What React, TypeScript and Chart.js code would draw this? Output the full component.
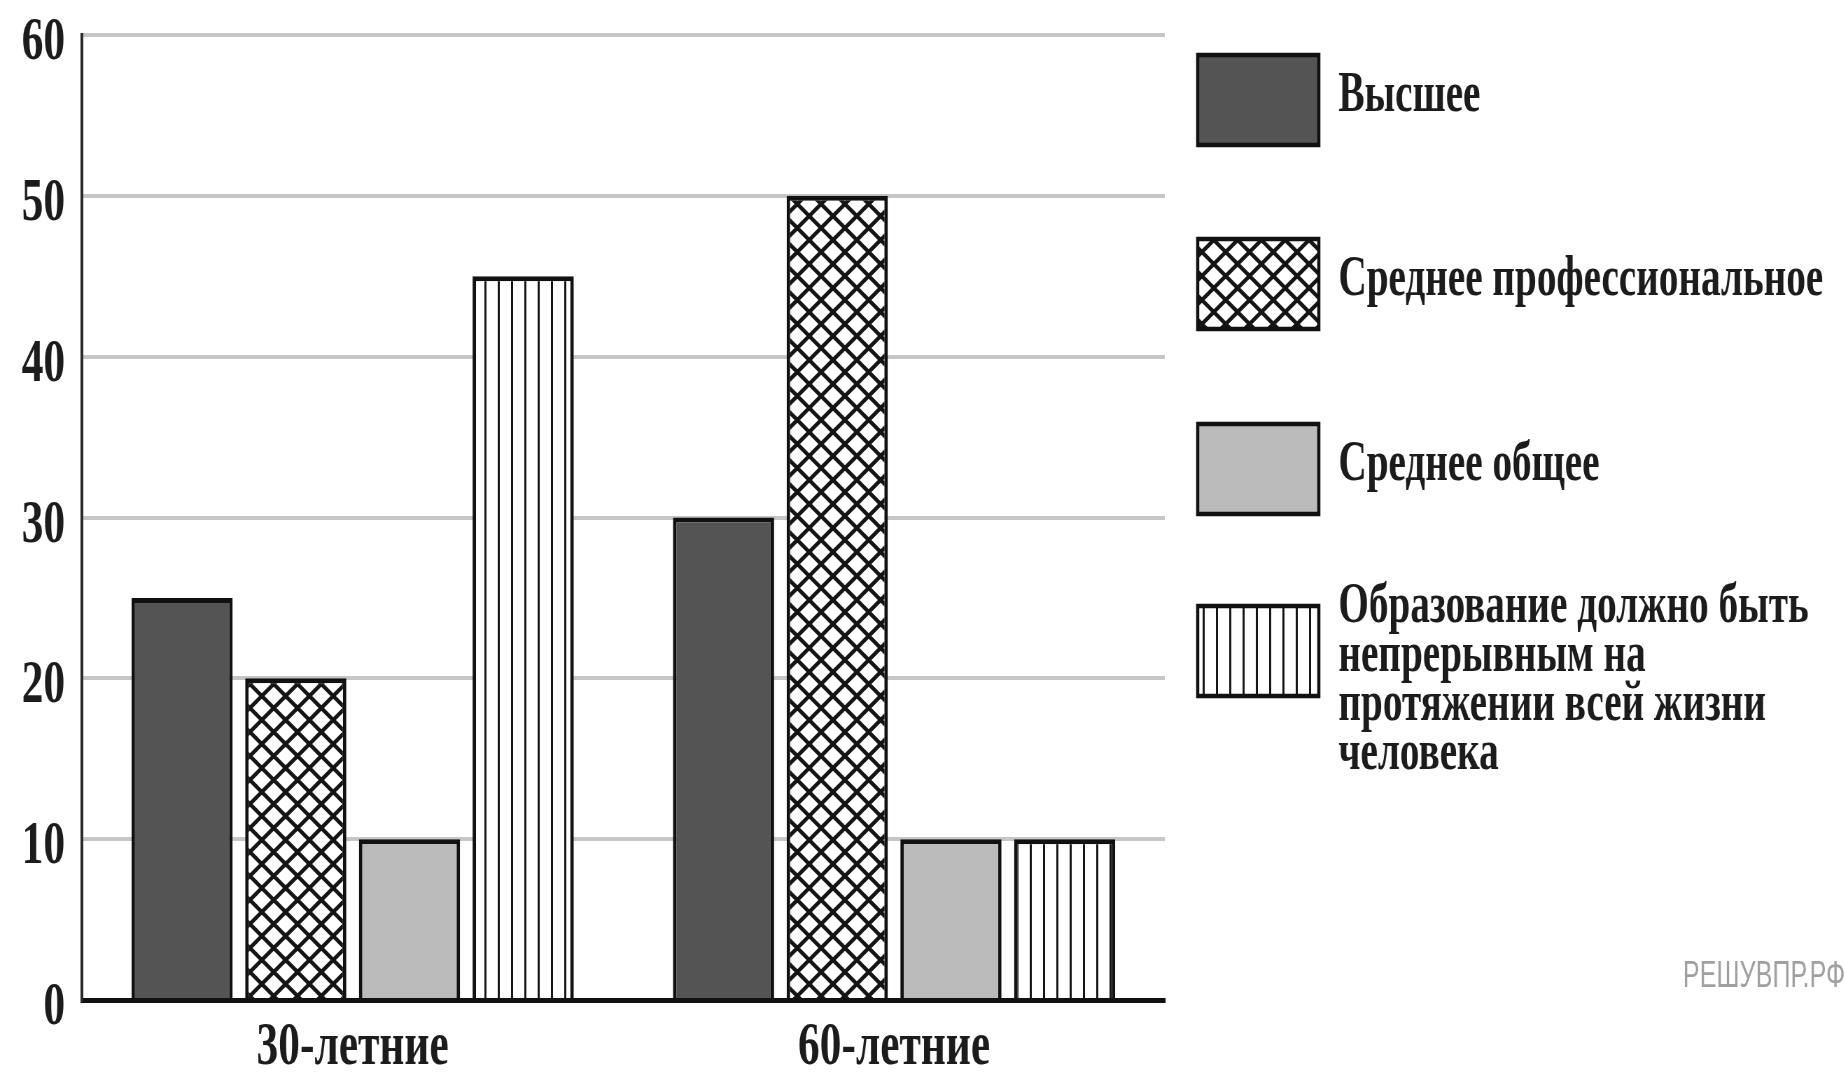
import React, { useEffect, useRef } from 'react';
import { Chart, registerables } from 'chart.js';

Chart.register(...registerables);

const categories = ['30-летние', '60-летние'];
const higher = [25, 30];
const vocational = [20, 50];
const general = [10, 10];
const lifelong = [45, 10];
const yTicks = [0, 10, 20, 30, 40, 50, 60];
const seriesNames = [
  'Высшее',
  'Среднее профессиональное',
  'Среднее общее',
  'Образование должно быть непрерывным на протяжении всей жизни человека',
];
const legendLines = [
  ['Высшее'],
  ['Среднее профессиональное'],
  ['Среднее общее'],
  ['Образование должно быть', 'непрерывным на', 'протяжении всей жизни', 'человека'],
];
const watermark = 'РЕШУВПР.РФ';

// the source picture is squeezed horizontally, so the canvas is drawn wide and scaled down
const SQUEEZE = 0.7;
const W = 2636;
const H = 1074;
const SERIF = '"Liberation Serif", "DejaVu Serif", serif';

function makeStripes(ctx: CanvasRenderingContext2D) {
  const c = document.createElement('canvas');
  c.width = 19;
  c.height = 8;
  const g = c.getContext('2d')!;
  g.fillStyle = '#ffffff';
  g.fillRect(0, 0, 19, 8);
  g.fillStyle = '#151515';
  g.fillRect(8, 0, 3, 8);
  return ctx.createPattern(c, 'repeat');
}

function makeLattice(ctx: CanvasRenderingContext2D) {
  const w = 34;
  const h = 24;
  const c = document.createElement('canvas');
  c.width = w;
  c.height = h;
  const g = c.getContext('2d')!;
  g.fillStyle = '#ffffff';
  g.fillRect(0, 0, w, h);
  g.strokeStyle = '#151515';
  g.lineWidth = 4.5;
  for (const dx of [-w, 0, w]) {
    for (const dy of [-h, 0, h]) {
      g.beginPath();
      g.moveTo(dx, dy);
      g.lineTo(dx + w, dy + h);
      g.moveTo(dx, dy + h);
      g.lineTo(dx + w, dy);
      g.stroke();
    }
  }
  return ctx.createPattern(c, 'repeat');
}

const sideLegend = {
  id: 'sideLegend',
  afterDraw(chart: Chart) {
    const { ctx } = chart;
    ctx.save();
    const boxX = 1711;
    const boxW = 173;
    const boxH = 90;
    const tops = [55, 239, 424, 606];
    chart.data.datasets.forEach((ds: any, i: number) => {
      const y = tops[i];
      ctx.fillStyle = ds.backgroundColor;
      ctx.fillRect(boxX, y, boxW, boxH);
      ctx.lineWidth = 4.5;
      ctx.strokeStyle = '#111111';
      ctx.strokeRect(boxX, y, boxW, boxH);
      ctx.fillStyle = '#1c1c1c';
      ctx.font = `bold 56px ${SERIF}`;
      ctx.textBaseline = 'middle';
      ctx.textAlign = 'left';
      const lines = legendLines[i];
      if (lines.length === 1) {
        ctx.fillText(lines[0], 1912, y + boxH / 2 - 3);
      } else {
        lines.forEach((t, j) => ctx.fillText(t, 1912, y + 2 + j * 49));
      }
    });
    ctx.fillStyle = '#a0a0a0';
    ctx.font = '36px "Liberation Sans", "DejaVu Sans", sans-serif';
    ctx.textBaseline = 'middle';
    ctx.fillText(watermark, 2404, 977);
    ctx.restore();
  },
};

const App: React.FC = () => {
  const canvasRef = useRef<HTMLCanvasElement>(null);
  const chartRef = useRef<Chart | null>(null);

  useEffect(() => {
    if (!canvasRef.current) return;
    if (chartRef.current) chartRef.current.destroy();
    const ctx = canvasRef.current.getContext('2d');
    if (!ctx) return;

    const bar = {
      borderColor: '#111111',
      borderWidth: 5,
      categoryPercentage: 0.84,
      barPercentage: 0.89,
    };

    chartRef.current = new Chart(ctx, {
      type: 'bar',
      data: {
        labels: categories,
        datasets: [
          { ...bar, label: seriesNames[0], data: higher, backgroundColor: '#545454' },
          { ...bar, label: seriesNames[1], data: vocational, backgroundColor: makeLattice(ctx) as any },
          { ...bar, label: seriesNames[2], data: general, backgroundColor: '#bababa' },
          { ...bar, label: seriesNames[3], data: lifelong, backgroundColor: makeStripes(ctx) as any },
        ],
      },
      options: {
        responsive: false,
        animation: false,
        layout: { padding: { left: 0, top: 35, right: W - 1664, bottom: 0 } },
        plugins: {
          legend: { display: false },
          tooltip: { enabled: false },
        },
        scales: {
          x: {
            grid: { display: false, drawTicks: false },
            border: { display: true, color: '#111111', width: 5 },
            ticks: {
              color: '#1c1c1c',
              font: { family: SERIF, size: 62, weight: 'bold', lineHeight: 1.2 },
              padding: 11,
            },
            afterFit: (s: any) => {
              s.height = 74;
            },
          },
          y: {
            min: 0,
            max: 60,
            afterBuildTicks: (s: any) => {
              s.ticks = yTicks.map((v) => ({ value: v }));
            },
            grid: { color: '#c6c6c6', lineWidth: 4, drawTicks: false },
            border: { color: '#2a2a2a', width: 4 },
            ticks: {
              color: '#1c1c1c',
              font: { family: SERIF, size: 62, weight: 'bold', lineHeight: 1 },
              padding: 24,
              labelOffset: 8,
            },
            afterFit: (s: any) => {
              s.width = 117;
              s.paddingTop = 0;
              s.paddingBottom = 0;
            },
          },
        },
      },
      plugins: [sideLegend],
    });

    return () => {
      if (chartRef.current) {
        chartRef.current.destroy();
        chartRef.current = null;
      }
    };
  }, []);

  return (
    <div
      style={{
        position: 'fixed',
        left: 0,
        top: 0,
        width: 1845,
        height: H,
        overflow: 'hidden',
        background: '#ffffff',
      }}
    >
      <div style={{ width: W, height: H, transform: `scaleX(${SQUEEZE})`, transformOrigin: '0 0' }}>
        <canvas ref={canvasRef} width={W} height={H} style={{ display: 'block' }}></canvas>
      </div>
    </div>
  );
};

export default App;
